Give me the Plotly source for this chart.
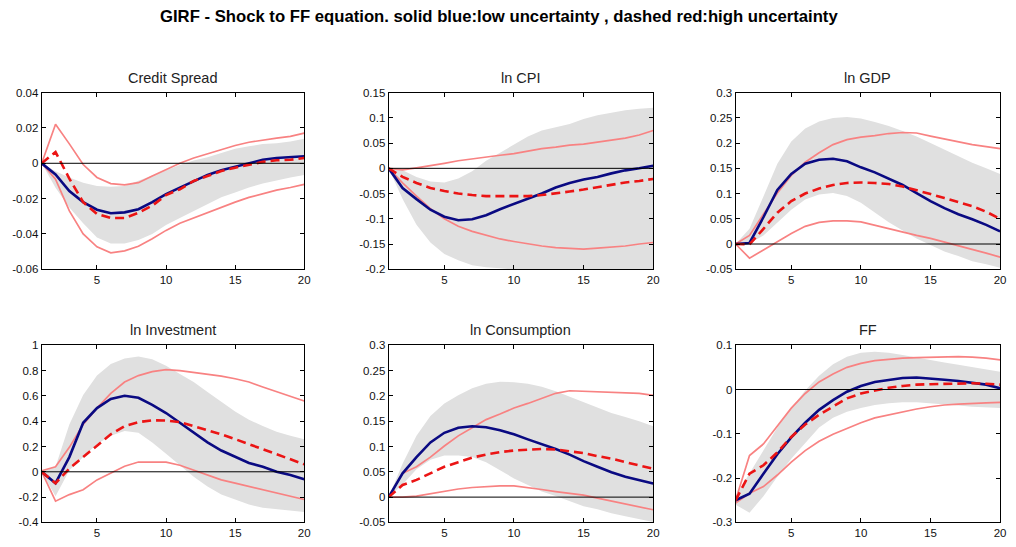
import plotly.graph_objects as go

#. Horizons 1..20
h = list(range(1, 21))

#. Panel titles
panel_titles = ["Credit Spread", "ln CPI", "ln GDP", "ln Investment", "ln Consumption", "FF"]

#. Credit Spread
cs_blue = [0, -0.0063, -0.0157, -0.022, -0.0263, -0.0283, -0.0278, -0.026, -0.022, -0.0175,
           -0.0138, -0.010, -0.0066, -0.004, -0.002, 0.0, 0.002, 0.003, 0.0037, 0.004]
cs_red = [0, 0.0064, -0.0087, -0.022, -0.0287, -0.031, -0.031, -0.028, -0.024, -0.018,
          -0.0147, -0.010, -0.0072, -0.0044, -0.0025, -0.001, 0.0008, 0.0017, 0.002, 0.003]
cs_pink_hi = [0, 0.0221, 0.011, -0.0007, -0.008, -0.0115, -0.0122, -0.011, -0.0072, -0.0034,
              0.0, 0.003, 0.0053, 0.0077, 0.0101, 0.0119, 0.0133, 0.0143, 0.0152, 0.0171]
cs_pink_lo = [0, -0.009, -0.027, -0.040, -0.0473, -0.0507, -0.0496, -0.047, -0.0427, -0.038,
              -0.034, -0.031, -0.0277, -0.0249, -0.022, -0.0193, -0.0171, -0.0152, -0.0137, -0.0119]
cs_gray_hi = [0, -0.0045, -0.008, -0.011, -0.0128, -0.0133, -0.0128, -0.010, -0.0072, -0.004,
              -0.001, 0.0016, 0.0034, 0.0058, 0.0083, 0.0096, 0.0109, 0.0114, 0.0124, 0.0139]
cs_gray_lo = [0, -0.0138, -0.025, -0.034, -0.042, -0.0455, -0.0455, -0.0435, -0.040, -0.035,
              -0.031, -0.027, -0.023, -0.0193, -0.0165, -0.0137, -0.0115, -0.0096, -0.008, -0.0066]

#. ln CPI
cpi_blue = [0, -0.039, -0.061, -0.082, -0.096, -0.103, -0.101, -0.093, -0.081, -0.071,
            -0.061, -0.050, -0.038, -0.029, -0.022, -0.017, -0.010, -0.004, 0.0, 0.005]
cpi_red = [0, -0.017, -0.029, -0.039, -0.045, -0.050, -0.053, -0.055, -0.055, -0.055,
           -0.055, -0.053, -0.050, -0.046, -0.042, -0.037, -0.033, -0.028, -0.025, -0.021]
cpi_pink_hi = [0, -0.003, 0.001, 0.005, 0.010, 0.015, 0.019, 0.023, 0.026, 0.029,
               0.034, 0.039, 0.042, 0.046, 0.048, 0.052, 0.056, 0.060, 0.066, 0.075]
cpi_pink_lo = [0, -0.029, -0.055, -0.080, -0.100, -0.115, -0.125, -0.133, -0.140, -0.145,
               -0.150, -0.154, -0.157, -0.159, -0.160, -0.158, -0.156, -0.154, -0.150, -0.147]
cpi_gray_hi = [0, -0.004, -0.017, -0.026, -0.028, -0.020, -0.006, 0.015, 0.031, 0.047,
               0.063, 0.075, 0.082, 0.088, 0.098, 0.105, 0.110, 0.115, 0.118, 0.120]
cpi_gray_lo = [0, -0.061, -0.112, -0.147, -0.170, -0.182, -0.192, -0.196, -0.198, -0.201,
               -0.205, -0.208, -0.210, -0.212, -0.214, -0.215, -0.216, -0.217, -0.218, -0.219]

#. ln GDP
gdp_blue = [0, 0.002, 0.053, 0.107, 0.139, 0.159, 0.167, 0.169, 0.164, 0.152,
            0.142, 0.130, 0.117, 0.101, 0.085, 0.071, 0.059, 0.049, 0.038, 0.025]
gdp_red = [0, -0.001, 0.030, 0.062, 0.085, 0.100, 0.110, 0.117, 0.121, 0.122,
           0.121, 0.119, 0.114, 0.107, 0.099, 0.091, 0.083, 0.075, 0.064, 0.050]
gdp_pink_hi = [0, 0.017, 0.059, 0.101, 0.136, 0.162, 0.181, 0.197, 0.207, 0.212,
               0.215, 0.219, 0.221, 0.220, 0.214, 0.208, 0.202, 0.197, 0.193, 0.189]
gdp_pink_lo = [0, -0.028, -0.012, 0.004, 0.021, 0.035, 0.043, 0.046, 0.046, 0.044,
               0.037, 0.030, 0.024, 0.017, 0.011, 0.004, -0.003, -0.010, -0.018, -0.026]
gdp_gray_hi = [0, 0.030, 0.094, 0.159, 0.203, 0.229, 0.243, 0.250, 0.252, 0.249,
               0.242, 0.234, 0.224, 0.213, 0.200, 0.187, 0.174, 0.161, 0.150, 0.139]
gdp_gray_lo = [0, 0.001, 0.017, 0.043, 0.068, 0.088, 0.098, 0.101, 0.095, 0.082,
               0.062, 0.043, 0.027, 0.011, -0.002, -0.015, -0.024, -0.034, -0.040, -0.047]

#. ln Investment
inv_blue = [0, -0.090, 0.116, 0.387, 0.503, 0.575, 0.600, 0.585, 0.528, 0.464,
            0.387, 0.309, 0.232, 0.168, 0.116, 0.070, 0.039, 0.0, -0.026, -0.059]
inv_red = [0, -0.090, 0.026, 0.116, 0.206, 0.296, 0.361, 0.392, 0.407, 0.405,
           0.392, 0.361, 0.327, 0.296, 0.258, 0.219, 0.180, 0.142, 0.098, 0.059]
inv_pink_hi = [0.008, 0.039, 0.193, 0.374, 0.503, 0.619, 0.709, 0.760, 0.791, 0.807,
               0.799, 0.786, 0.773, 0.755, 0.735, 0.709, 0.670, 0.631, 0.593, 0.559]
inv_pink_lo = [0, -0.232, -0.180, -0.142, -0.064, -0.013, 0.044, 0.077, 0.077, 0.077,
               0.052, 0.013, -0.026, -0.064, -0.090, -0.116, -0.142, -0.168, -0.193, -0.219]
inv_gray_hi = [0, 0.039, 0.374, 0.606, 0.760, 0.851, 0.894, 0.910, 0.889, 0.838,
               0.773, 0.709, 0.631, 0.554, 0.477, 0.412, 0.361, 0.317, 0.284, 0.258]
inv_gray_lo = [0, -0.193, 0.013, 0.116, 0.219, 0.284, 0.322, 0.309, 0.232, 0.142,
               0.052, -0.039, -0.116, -0.180, -0.219, -0.258, -0.284, -0.296, -0.309, -0.317]

#. ln Consumption
con_blue = [0, 0.047, 0.079, 0.108, 0.127, 0.137, 0.140, 0.138, 0.132, 0.124,
            0.114, 0.105, 0.095, 0.084, 0.071, 0.060, 0.049, 0.040, 0.034, 0.027]
con_red = [0, 0.024, 0.034, 0.047, 0.060, 0.069, 0.078, 0.084, 0.089, 0.092,
           0.094, 0.095, 0.094, 0.091, 0.087, 0.081, 0.076, 0.069, 0.063, 0.056]
con_pink_hi = [0, 0.047, 0.060, 0.079, 0.101, 0.121, 0.137, 0.153, 0.164, 0.176,
               0.185, 0.195, 0.205, 0.210, 0.209, 0.208, 0.208, 0.206, 0.205, 0.201]
con_pink_lo = [0, 0.0, 0.002, 0.007, 0.011, 0.016, 0.019, 0.021, 0.022, 0.022,
               0.019, 0.015, 0.011, 0.008, 0.004, -0.002, -0.008, -0.014, -0.020, -0.025]
con_gray_hi = [0, 0.066, 0.121, 0.160, 0.185, 0.201, 0.215, 0.224, 0.228, 0.227,
               0.224, 0.218, 0.209, 0.198, 0.187, 0.176, 0.166, 0.158, 0.150, 0.140]
con_gray_lo = [0, 0.025, 0.055, 0.074, 0.082, 0.082, 0.079, 0.069, 0.053, 0.037,
               0.024, 0.011, 0.002, -0.008, -0.018, -0.024, -0.032, -0.038, -0.043, -0.049]

#. FF
ff_blue = [-0.250, -0.235, -0.190, -0.146, -0.108, -0.075, -0.046, -0.024, -0.005, 0.008,
           0.017, 0.022, 0.026, 0.027, 0.025, 0.022, 0.019, 0.015, 0.011, 0.003]
ff_red = [-0.250, -0.190, -0.171, -0.142, -0.107, -0.079, -0.057, -0.039, -0.020, -0.009,
          -0.002, 0.004, 0.008, 0.011, 0.012, 0.013, 0.014, 0.014, 0.013, 0.011]
ff_pink_hi = [-0.250, -0.149, -0.123, -0.083, -0.042, -0.009, 0.017, 0.035, 0.050, 0.059,
              0.065, 0.068, 0.071, 0.072, 0.073, 0.073, 0.074, 0.073, 0.071, 0.067]
ff_pink_lo = [-0.256, -0.234, -0.219, -0.193, -0.164, -0.138, -0.117, -0.101, -0.088, -0.075,
              -0.064, -0.057, -0.050, -0.044, -0.039, -0.035, -0.033, -0.031, -0.030, -0.029]
ff_gray_hi = [-0.241, -0.190, -0.138, -0.086, -0.042, -0.002, 0.031, 0.057, 0.074, 0.083,
              0.085, 0.083, 0.078, 0.072, 0.067, 0.061, 0.056, 0.051, 0.046, 0.040]
ff_gray_lo = [-0.260, -0.278, -0.241, -0.197, -0.156, -0.120, -0.086, -0.064, -0.050, -0.042,
              -0.035, -0.031, -0.029, -0.029, -0.031, -0.033, -0.036, -0.039, -0.041, -0.042]

#. y-axis ranges and tick labels per panel
y_ranges = [[-0.06, 0.04], [-0.2, 0.15], [-0.05, 0.3], [-0.4, 1.0], [-0.05, 0.3], [-0.3, 0.1]]
y_ticks = [
    ["-0.06", "-0.04", "-0.02", "0", "0.02", "0.04"],
    ["-0.2", "-0.15", "-0.1", "-0.05", "0", "0.05", "0.1", "0.15"],
    ["-0.05", "0", "0.05", "0.1", "0.15", "0.2", "0.25", "0.3"],
    ["-0.4", "-0.2", "0", "0.2", "0.4", "0.6", "0.8", "1"],
    ["-0.05", "0", "0.05", "0.1", "0.15", "0.2", "0.25", "0.3"],
    ["-0.3", "-0.2", "-0.1", "0", "0.1"],
]
x_ticks = [5, 10, 15, 20]

panels = [
    (cs_blue, cs_red, cs_pink_hi, cs_pink_lo, cs_gray_hi, cs_gray_lo),
    (cpi_blue, cpi_red, cpi_pink_hi, cpi_pink_lo, cpi_gray_hi, cpi_gray_lo),
    (gdp_blue, gdp_red, gdp_pink_hi, gdp_pink_lo, gdp_gray_hi, gdp_gray_lo),
    (inv_blue, inv_red, inv_pink_hi, inv_pink_lo, inv_gray_hi, inv_gray_lo),
    (con_blue, con_red, con_pink_hi, con_pink_lo, con_gray_hi, con_gray_lo),
    (ff_blue, ff_red, ff_pink_hi, ff_pink_lo, ff_gray_hi, ff_gray_lo),
]

#: axes placement (fractions of the 1016x547 page)
x_domains = [[0.0413, 0.3012], [0.3848, 0.6467], [0.7283, 0.9902]]
y_domains = [[0.508, 0.838], [0.0347, 0.366]]

GRAY = "rgb(224,224,224)"
PINK = "rgb(248,130,130)"
BLUE = "rgb(10,10,130)"
RED = "rgb(235,20,20)"
FONT = "Liberation Sans, Arial, sans-serif"

fig = go.Figure()
layout = {}
for i, (blue, red, pink_hi, pink_lo, gray_hi, gray_lo) in enumerate(panels):
    n = i + 1
    xa = "x" if n == 1 else "x%d" % n
    ya = "y" if n == 1 else "y%d" % n
    # gray band
    fig.add_trace(go.Scatter(x=h, y=gray_hi, xaxis=xa, yaxis=ya, mode="lines",
                             line=dict(width=0, color=GRAY), showlegend=False))
    fig.add_trace(go.Scatter(x=h, y=gray_lo, xaxis=xa, yaxis=ya, mode="lines", fill="tonexty",
                             fillcolor=GRAY, line=dict(width=0, color=GRAY), showlegend=False))
    # pink bands
    for band in (pink_hi, pink_lo):
        fig.add_trace(go.Scatter(x=h, y=band, xaxis=xa, yaxis=ya, mode="lines",
                                 line=dict(width=1.7, color=PINK), showlegend=False))
    fig.add_trace(go.Scatter(x=h, y=blue, xaxis=xa, yaxis=ya, mode="lines",
                             line=dict(width=2.6, color=BLUE), showlegend=False))
    fig.add_trace(go.Scatter(x=h, y=red, xaxis=xa, yaxis=ya, mode="lines",
                             line=dict(width=2.6, color=RED, dash="9px,5px"), showlegend=False))

    row, col = divmod(i, 3)
    ticktext = y_ticks[i]
    tickvals = [float(t) for t in ticktext]
    axis_common = dict(showline=True, linecolor="black", linewidth=1, mirror="allticks",
                       ticks="inside", ticklen=4, tickcolor="black", showgrid=False,
                       zeroline=False, tickfont=dict(family=FONT, size=11.5, color="#111"))
    layout["xaxis" if n == 1 else "xaxis%d" % n] = dict(
        domain=x_domains[col], range=[1, 20], tickvals=x_ticks, anchor=ya, **axis_common)
    layout["yaxis" if n == 1 else "yaxis%d" % n] = dict(
        domain=y_domains[row], range=y_ranges[i], tickvals=tickvals, ticktext=ticktext,
        anchor=xa, **axis_common)
    # zero line
    fig.add_shape(type="line", xref="%s domain" % xa, yref=ya, x0=0, x1=1, y0=0, y1=0,
                  line=dict(color="black", width=1))
    # panel title
    fig.add_annotation(text=panel_titles[i], xref="paper", yref="paper",
                       x=sum(x_domains[col]) / 2, y=y_domains[row][1], yshift=5,
                       xanchor="center", yanchor="bottom", showarrow=False,
                       font=dict(family=FONT, size=14.5, color="#222"))

fig.update_layout(
    **layout,
    width=1016, height=547,
    margin=dict(l=0, r=0, t=0, b=0),
    paper_bgcolor="white", plot_bgcolor="white",
    title=dict(text="<b>GIRF - Shock to FF equation. solid blue:low uncertainty , dashed red:high uncertainty</b>",
               x=0.491, xanchor="center", y=0.97, yanchor="middle",
               font=dict(family=FONT, size=16.7, color="black")),
)

#: drop the default page margin so the figure sits at the window's corner
fig.write_html("out.html", config={"displayModeBar": False},
               post_script="document.body.style.margin='0';document.body.style.overflow='hidden';")
